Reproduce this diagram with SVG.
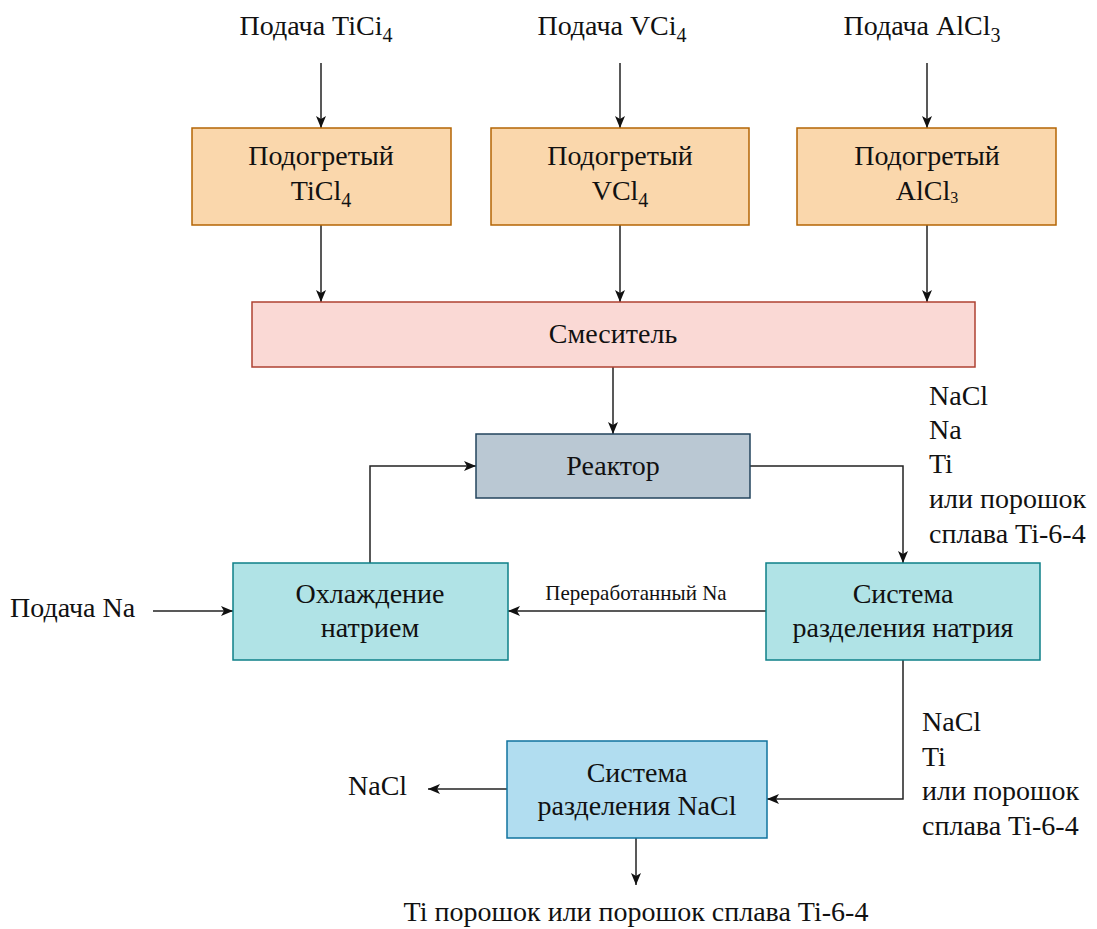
<svg xmlns="http://www.w3.org/2000/svg" width="1097" height="929" viewBox="0 0 1097 929">
<style>
text{font-family:'Liberation Serif','DejaVu Serif',serif;font-size:28px;fill:#111}
.c{text-anchor:middle}
.sm{font-size:21px}
.ln{fill:none;stroke:#222;stroke-width:1.5;marker-end:url(#ah)}
.or{fill:#fad7ac;stroke:#b46504;stroke-width:1.5}
.pk{fill:#fad9d5;stroke:#ae4132;stroke-width:1.5}
.gr{fill:#bac8d3;stroke:#23445d;stroke-width:1.5}
.tl{fill:#b0e3e6;stroke:#0e8088;stroke-width:1.5}
.bl{fill:#b1ddf0;stroke:#10739e;stroke-width:1.5}
</style>
<defs>
<marker id="ah" viewBox="0 0 12 12" refX="12" refY="6" markerWidth="12" markerHeight="12" markerUnits="userSpaceOnUse" orient="auto">
<path d="M0,1 L12,6 L0,11 L3,6 z" fill="#111"/>
</marker>
</defs>
<rect width="1097" height="929" fill="#fff"/>

<g id="labels">
<text x="316" y="35" class="c">Подача TiCi<tspan dy="7" font-size="20">4</tspan></text>
<text x="612" y="35" class="c">Подача VCi<tspan dy="7" font-size="20">4</tspan></text>
<text x="922" y="35" class="c">Подача AlCl<tspan dy="7" font-size="20">3</tspan></text>
<text x="10" y="617">Подача Na</text>
<text x="348" y="795">NaCl</text>
<text x="636" y="921" class="c">Ti порошок или порошок сплава Ti-6-4</text>
<text x="929" y="405">NaCl</text>
<text x="929" y="439">Na</text>
<text x="929" y="473">Ti</text>
<text x="929" y="508">или порошок</text>
<text x="929" y="543">сплава Ti-6-4</text>
<text x="922" y="731">NaCl</text>
<text x="922" y="766">Ti</text>
<text x="922" y="800">или порошок</text>
<text x="922" y="835">сплава Ti-6-4</text>
<text x="636" y="600" class="c sm">Переработанный Na</text>
</g>

<g id="connectors">
<path class="ln" d="M321,63 V128"/>
<path class="ln" d="M620,63 V128"/>
<path class="ln" d="M927,63 V128"/>
<path class="ln" d="M321,225 V302"/>
<path class="ln" d="M620,225 V302"/>
<path class="ln" d="M927,225 V302"/>
<path class="ln" d="M613,367 V434"/>
<path class="ln" d="M370,563 V466 H476"/>
<path class="ln" d="M750,466 H903 V563"/>
<path class="ln" d="M766,611 H508"/>
<path class="ln" d="M153,611 H233"/>
<path class="ln" d="M903,660 V799 H767"/>
<path class="ln" d="M507,789 H428"/>
<path class="ln" d="M636,838 V885"/>
</g>

<g id="heated-ticl4">
<rect class="or" x="192" y="128" width="259" height="97"/>
<text x="321" y="165" class="c">Подогретый</text>
<text x="321" y="200" class="c">TiCl<tspan dy="7" font-size="20">4</tspan></text>
</g>
<g id="heated-vcl4">
<rect class="or" x="491" y="128" width="258" height="97"/>
<text x="620" y="165" class="c">Подогретый</text>
<text x="620" y="200" class="c">VCl<tspan dy="7" font-size="20">4</tspan></text>
</g>
<g id="heated-alcl3">
<rect class="or" x="797" y="128" width="259" height="97"/>
<text x="927" y="165" class="c">Подогретый</text>
<text x="927" y="200" class="c">AlCl<tspan dy="3" font-size="16">3</tspan></text>
</g>
<g id="mixer">
<rect class="pk" x="252" y="302" width="723" height="65"/>
<text x="613" y="343" class="c">Смеситель</text>
</g>
<g id="reactor">
<rect class="gr" x="476" y="434" width="274" height="64"/>
<text x="613" y="475" class="c">Реактор</text>
</g>
<g id="sodium-cooling">
<rect class="tl" x="233" y="563" width="275" height="97"/>
<text x="370" y="603" class="c">Охлаждение</text>
<text x="370" y="637" class="c">натрием</text>
</g>
<g id="sodium-separation">
<rect class="tl" x="766" y="563" width="274" height="97"/>
<text x="903" y="603" class="c">Система</text>
<text x="903" y="637" class="c">разделения натрия</text>
</g>
<g id="nacl-separation">
<rect class="bl" x="507" y="741" width="260" height="97"/>
<text x="637" y="782" class="c">Система</text>
<text x="637" y="815" class="c">разделения NaCl</text>
</g>
</svg>
